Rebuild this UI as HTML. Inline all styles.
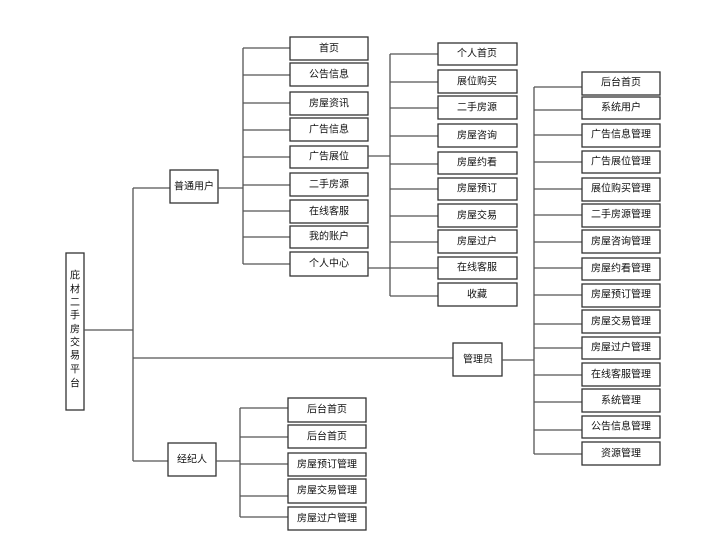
<!DOCTYPE html>
<html><head><meta charset="utf-8"><style>
html,body{margin:0;padding:0;background:#fff;}
svg{display:block;}
text{font-family:"Liberation Sans","Noto Sans CJK SC",sans-serif;font-size:10px;fill:#111;text-anchor:middle;dominant-baseline:central;}
.b{fill:#fff;stroke:#333;stroke-width:1.3;}
.l{stroke:#555;stroke-width:1.3;fill:none;}
</style></head><body>
<svg width="723" height="552" viewBox="0 0 723 552" xmlns="http://www.w3.org/2000/svg">
<!-- root -->
<rect class="b" x="66" y="253" width="18" height="157"/>
<g>
<text x="75" y="276">庇</text><text x="75" y="290">材</text><text x="75" y="303">二</text>
<text x="75" y="316">手</text><text x="75" y="330">房</text><text x="75" y="343">交</text>
<text x="75" y="356">易</text><text x="75" y="370">平</text><text x="75" y="384">台</text>
</g>
<path class="l" d="M84 330H133M133 188V461M133 188H170M133 358H453M133 461H168"/>
<!-- level1 -->
<rect class="b" x="170" y="170" width="48" height="33"/><text x="194" y="187">普通用户</text>
<rect class="b" x="453" y="343" width="49" height="33"/><text x="478" y="360">管理员</text>
<rect class="b" x="168" y="443" width="48" height="33"/><text x="192" y="460">经纪人</text>
<!-- col1 -->
<path class="l" d="M218 188H243M243 48V264M243 48H290M243 75H290M243 103H290M243 130H290M243 157H290M243 185H290M243 211H290M243 237H290M243 264H290"/>
<g>
<rect class="b" x="290" y="37" width="78" height="23"/><text x="329" y="49">首页</text>
<rect class="b" x="290" y="63" width="78" height="23"/><text x="329" y="75">公告信息</text>
<rect class="b" x="290" y="92" width="78" height="23"/><text x="329" y="104">房屋资讯</text>
<rect class="b" x="290" y="118" width="78" height="23"/><text x="329" y="130">广告信息</text>
<rect class="b" x="290" y="146" width="78" height="22"/><text x="329" y="157">广告展位</text>
<rect class="b" x="290" y="173" width="78" height="23"/><text x="329" y="185">二手房源</text>
<rect class="b" x="290" y="200" width="78" height="23"/><text x="329" y="212">在线客服</text>
<rect class="b" x="290" y="226" width="78" height="22"/><text x="329" y="237">我的账户</text>
<rect class="b" x="290" y="252" width="78" height="24"/><text x="329" y="264">个人中心</text>
</g>
<!-- col2 -->
<path class="l" d="M368 156H390M368 268H390M390 54V296M390 54H438M390 82H438M390 108H438M390 136H438M390 164H438M390 189H438M390 216H438M390 242H438M390 268H438M390 296H438"/>
<g>
<rect class="b" x="438" y="43" width="79" height="22"/><text x="477" y="54">个人首页</text>
<rect class="b" x="438" y="70" width="79" height="23"/><text x="477" y="82">展位购买</text>
<rect class="b" x="438" y="96" width="79" height="23"/><text x="477" y="108">二手房源</text>
<rect class="b" x="438" y="124" width="79" height="23"/><text x="477" y="136">房屋咨询</text>
<rect class="b" x="438" y="152" width="79" height="22"/><text x="477" y="163">房屋约看</text>
<rect class="b" x="438" y="178" width="79" height="22"/><text x="477" y="189">房屋预订</text>
<rect class="b" x="438" y="204" width="79" height="23"/><text x="477" y="216">房屋交易</text>
<rect class="b" x="438" y="230" width="79" height="23"/><text x="477" y="242">房屋过户</text>
<rect class="b" x="438" y="257" width="79" height="22"/><text x="477" y="268">在线客服</text>
<rect class="b" x="438" y="283" width="79" height="23"/><text x="477" y="295">收藏</text>
</g>
<!-- admin col -->
<path class="l" d="M502 360H534M534 87V454M534 87H582M534 110H582M534 135H582M534 162H582M534 189H582M534 215H582M534 242H582M534 268H582M534 295H582M534 324H582M534 348H582M534 375H582M534 402H582M534 430H582M534 454H582"/>
<g>
<rect class="b" x="582" y="72" width="78" height="23"/><text x="621" y="83">后台首页</text>
<rect class="b" x="582" y="97" width="78" height="22"/><text x="621" y="108">系统用户</text>
<rect class="b" x="582" y="124" width="78" height="23"/><text x="621" y="135">广告信息管理</text>
<rect class="b" x="582" y="151" width="78" height="22"/><text x="621" y="162">广告展位管理</text>
<rect class="b" x="582" y="178" width="78" height="23"/><text x="621" y="189">展位购买管理</text>
<rect class="b" x="582" y="204" width="78" height="23"/><text x="621" y="215">二手房源管理</text>
<rect class="b" x="582" y="230" width="78" height="23"/><text x="621" y="242">房屋咨询管理</text>
<rect class="b" x="582" y="258" width="78" height="22"/><text x="621" y="269">房屋约看管理</text>
<rect class="b" x="582" y="284" width="78" height="23"/><text x="621" y="295">房屋预订管理</text>
<rect class="b" x="582" y="310" width="78" height="23"/><text x="621" y="322">房屋交易管理</text>
<rect class="b" x="582" y="337" width="78" height="22"/><text x="621" y="348">房屋过户管理</text>
<rect class="b" x="582" y="363" width="78" height="23"/><text x="621" y="375">在线客服管理</text>
<rect class="b" x="582" y="389" width="78" height="23"/><text x="621" y="401">系统管理</text>
<rect class="b" x="582" y="416" width="78" height="22"/><text x="621" y="427">公告信息管理</text>
<rect class="b" x="582" y="442" width="78" height="23"/><text x="621" y="454">资源管理</text>
</g>
<!-- broker col -->
<path class="l" d="M216 461H240M240 408V517M240 408H288M240 437H288M240 464H288M240 496H288M240 517H288"/>
<g>
<rect class="b" x="288" y="398" width="78" height="24"/><text x="327" y="410">后台首页</text>
<rect class="b" x="288" y="425" width="78" height="23"/><text x="327" y="437">后台首页</text>
<rect class="b" x="288" y="453" width="78" height="23"/><text x="327" y="465">房屋预订管理</text>
<rect class="b" x="288" y="479" width="78" height="24"/><text x="327" y="491">房屋交易管理</text>
<rect class="b" x="288" y="507" width="78" height="23"/><text x="327" y="519">房屋过户管理</text>
</g>
</svg>
</body></html>
